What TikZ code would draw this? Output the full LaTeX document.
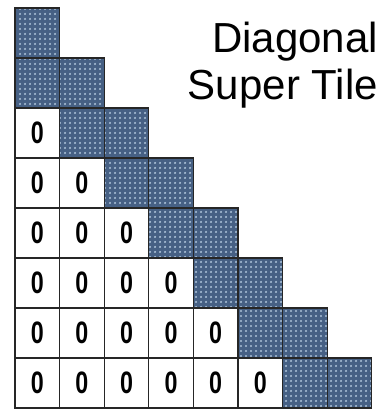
\documentclass[tikz,border=0pt]{standalone}
\usepackage{fontspec}
\newfontfamily\arialfont{Liberation Sans}
\usepackage{graphicx}
\usepackage{xcolor}
\usetikzlibrary{patterns.meta}

\definecolor{tileblue}{RGB}{70,96,132}
\definecolor{dotblue}{RGB}{170,192,215}

\tikzdeclarepattern{name=tiledots, type=uncolored,
    bounding box={(0pt,0pt) and (4.5pt,4.5pt)}, tile size={(4.5pt,4.5pt)},
    code={\fill (2.25pt,2.25pt) circle (1.25pt);}}

\begin{document}
\begin{tikzpicture}[
        x=1pt, y=1pt,
        cell/.style={draw=black!85, line width=1.2pt, minimum width=44.6pt,
            minimum height=50pt, inner sep=0pt, anchor=center},
        zero/.style={cell, fill=white, font=\arialfont\bfseries\fontsize{31}{31}\selectfont},
        tile/.style={cell, preaction={fill=tileblue}, pattern=tiledots,
            pattern color=dotblue},
        title/.style={font=\arialfont\fontsize{42}{47}\selectfont, align=right,
            inner sep=0pt, anchor=north east}
    ]
        \useasboundingbox (0,0) rectangle (389,-412);

        % Lower triangle of zeros and the two tile diagonals.
        \foreach \r in {1,...,8}
            \foreach \c in {1,...,8} {
                \pgfmathtruncatemacro{\lo}{\r-1}
                \ifnum\c<\lo
                    \node[zero] (c\r-\c) at ({15+44.6*(\c-0.5)},{17-50*\r})
                        {\scalebox{0.75}[1]{0}};
                \else\ifnum\c>\r\else
                    \node[tile] (c\r-\c) at ({15+44.6*(\c-0.5)},{17-50*\r}) {};
                \fi\fi
            }

        \node[title] (label) at (378,-22) {Diagonal\\Super Tile};
    \end{tikzpicture}
\end{document}
